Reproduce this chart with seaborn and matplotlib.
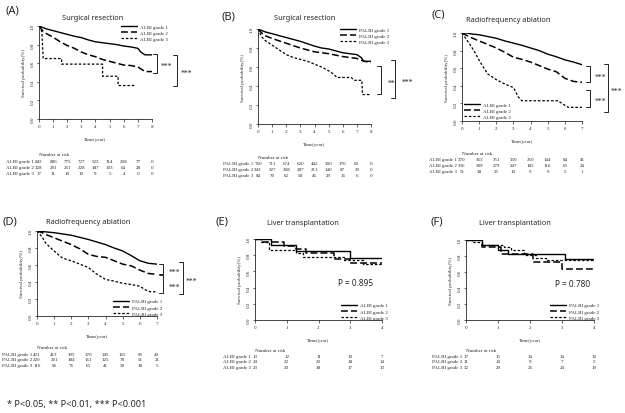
# Kaplan-Meier egrileri: ALBI / PALBI, 6 panel
import numpy as np
import matplotlib
matplotlib.use("Agg")
from matplotlib import pyplot as plt
from matplotlib import transforms
import seaborn as sns

# --- (A) ALBI, surgical resection ---
a_t1 = [0, 0.5, 1, 1.5, 2, 2.5, 3, 3.5, 4, 4.5, 5, 5.5, 6, 6.5, 7, 7.2, 7.5, 8]
a_s1 = [1, 0.97, 0.95, 0.93, 0.91, 0.89, 0.875, 0.85, 0.83, 0.82, 0.81, 0.80, 0.785, 0.775, 0.76, 0.72, 0.69, 0.69]
a_t2 = [0, 0.25, 0.5, 1, 1.5, 2, 2.5, 3, 3.5, 4, 4.5, 5, 5.5, 6, 6.5, 7, 7.3, 7.5, 8]
a_s2 = [1, 0.95, 0.92, 0.88, 0.83, 0.79, 0.76, 0.72, 0.69, 0.67, 0.64, 0.62, 0.60, 0.58, 0.575, 0.56, 0.53, 0.51, 0.51]
a_t3 = [0, 0.2, 0.3, 1.6, 1.6, 4.5, 4.5, 5.6, 5.6, 6.8]
a_s3 = [1, 0.94, 0.65, 0.65, 0.59, 0.59, 0.46, 0.46, 0.36, 0.36]
a_risk = [[842, 806, 775, 727, 523, 314, 208, 77, 0],
          [328, 291, 261, 228, 187, 103, 64, 28, 0],
          [17, 11, 10, 10, 9, 5, 4, 0, 0]]

# --- (B) PALBI, surgical resection ---
b_t1 = [0, 0.5, 1, 1.5, 2, 2.5, 3, 3.5, 4, 4.5, 5, 5.5, 6, 6.5, 7, 7.3, 7.5, 8]
b_s1 = [1, 0.97, 0.95, 0.93, 0.91, 0.89, 0.87, 0.845, 0.82, 0.80, 0.79, 0.77, 0.75, 0.74, 0.73, 0.70, 0.66, 0.66]
b_t2 = [0, 0.25, 0.5, 1, 1.5, 2, 2.5, 3, 3.5, 4, 4.5, 5, 5.5, 6, 6.5, 7, 7.5, 8]
b_s2 = [1, 0.96, 0.93, 0.90, 0.875, 0.85, 0.825, 0.80, 0.78, 0.76, 0.75, 0.74, 0.725, 0.71, 0.70, 0.69, 0.66, 0.65]
b_t3 = [0, 0.25, 0.5, 1, 1.5, 2, 2.5, 3, 3.5, 4, 4.5, 5, 5.3, 5.6, 6.6, 6.8, 7.35, 7.4, 8]
b_s3 = [1, 0.92, 0.88, 0.83, 0.78, 0.73, 0.70, 0.68, 0.66, 0.63, 0.60, 0.56, 0.53, 0.49, 0.49, 0.46, 0.46, 0.31, 0.31]
b_risk = [[760, 711, 674, 620, 442, 300, 170, 60, 0],
          [343, 327, 308, 287, 211, 140, 87, 39, 0],
          [84, 70, 62, 58, 46, 29, 16, 6, 0]]

# --- (C) ALBI, radiofrequency ablation ---
c_t1 = [0, 0.3, 0.5, 1, 1.5, 2, 2.5, 3, 3.5, 4, 4.5, 5, 5.5, 6, 6.5, 7]
c_s1 = [1, 1, 0.99, 0.98, 0.96, 0.94, 0.91, 0.885, 0.86, 0.83, 0.80, 0.76, 0.73, 0.695, 0.67, 0.64]
c_t2 = [0, 0.2, 0.5, 1, 1.5, 2, 2.5, 3, 3.5, 4, 4.5, 5, 5.5, 6, 6.5, 7]
c_s2 = [1, 0.98, 0.95, 0.91, 0.87, 0.83, 0.78, 0.725, 0.70, 0.67, 0.63, 0.59, 0.56, 0.485, 0.45, 0.44]
c_t3 = [0, 0.25, 0.5, 0.75, 1, 1.25, 1.5, 2, 2.5, 3, 3.3, 3.5, 5.6, 5.9, 6.2, 7]
c_s3 = [1, 0.93, 0.86, 0.78, 0.69, 0.61, 0.535, 0.47, 0.42, 0.38, 0.27, 0.23, 0.23, 0.19, 0.155, 0.155]
c_risk = [[370, 363, 351, 330, 250, 144, 84, 41],
          [336, 309, 279, 247, 182, 116, 65, 24],
          [51, 38, 25, 19, 9, 9, 5, 1]]

# --- (D) PALBI, radiofrequency ablation ---
d_t1 = [0, 0.5, 1, 1.5, 2, 2.5, 3, 3.5, 4, 4.5, 5, 5.5, 6, 6.5, 7]
d_s1 = [1, 0.99, 0.98, 0.965, 0.95, 0.925, 0.90, 0.87, 0.84, 0.80, 0.765, 0.71, 0.65, 0.62, 0.61]
d_t2 = [0, 0.3, 0.5, 1, 1.5, 2, 2.5, 3, 3.5, 4, 4.5, 5, 5.5, 6, 6.5, 7]
d_s2 = [1, 0.98, 0.96, 0.92, 0.88, 0.84, 0.79, 0.725, 0.70, 0.69, 0.65, 0.61, 0.59, 0.54, 0.50, 0.49]
d_t3 = [0, 0.3, 0.5, 0.75, 1, 1.25, 1.5, 2, 2.5, 3, 3.5, 4, 4.5, 5, 5.5, 6, 6.3, 6.6, 7]
d_s3 = [1, 0.93, 0.86, 0.81, 0.765, 0.72, 0.68, 0.65, 0.61, 0.57, 0.49, 0.43, 0.41, 0.385, 0.37, 0.35, 0.31, 0.285, 0.285]
d_risk = [[421, 413, 395, 370, 245, 165, 85, 40],
          [220, 201, 184, 161, 125, 78, 51, 21],
          [116, 96, 76, 65, 41, 30, 18, 5]]

# --- (E) ALBI, liver transplantation ---
e_t1 = [0, 0.5, 1.3, 3.0, 4]
e_s1 = [1, 0.923, 0.846, 0.769, 0.769]
e_t2 = [0, 0.2, 0.9, 1.3, 1.6, 2.5, 3.0, 4]
e_s2 = [1, 0.958, 0.917, 0.875, 0.833, 0.75, 0.708, 0.708]
e_t3 = [0, 0.2, 0.45, 1.0, 1.3, 1.5, 2.3, 2.8, 3.4, 4]
e_s3 = [1, 0.957, 0.87, 0.87, 0.826, 0.783, 0.783, 0.739, 0.696, 0.696]
e_risk = [[13, 12, 11, 10, 7],
          [24, 22, 20, 18, 14],
          [23, 20, 18, 17, 13]]

# --- (F) PALBI, liver transplantation ---
f_t1 = [0, 0.5, 1.0, 1.3, 3.1, 4]
f_s1 = [1, 0.94, 0.88, 0.82, 0.76, 0.76]
f_t2 = [0, 0.5, 1.1, 2.1, 3.0, 4]
f_s2 = [1, 0.91, 0.82, 0.73, 0.64, 0.64]
f_t3 = [0, 0.2, 0.5, 1.2, 1.4, 1.8, 2.2, 2.5, 4]
f_s3 = [1, 0.97, 0.94, 0.91, 0.875, 0.81, 0.78, 0.75, 0.72]
f_risk = [[17, 15, 14, 14, 10],
          [11, 10, 9, 7, 5],
          [32, 29, 26, 24, 19]]

albi_labels = ["ALBI grade 1", "ALBI grade 2", "ALBI grade 3"]
palbi_labels = ["PALBI grade 1", "PALBI grade 2", "PALBI grade 3"]

SERIF = "Liberation Serif"
W, H = 625, 414

sns.set_style("ticks")
plt.rcParams['font.family'] = ['Noto Sans', 'DejaVu Sans']

fig = plt.figure(figsize=(6.25, 4.14), dpi=100)

line_styles = [dict(ls="-", lw=1.0),
               dict(ls=(0, (4.5, 2)), lw=1.1),
               dict(ls=(0, (2, 1.5)), lw=0.9)]


def px_axes(l, r, t, b):
    return fig.add_axes([l / W, 1 - b / H, (r - l) / W, (b - t) / H])


def km_panel(box, curves, labels, xmax, legend_pos, title, letter, title_xy, letter_xy, steps=False):
    ax = px_axes(*box)
    draw = "steps-post" if steps else "default"
    for (t, s), lab, st in zip(curves, labels, line_styles):
        sns.lineplot(x=t, y=s, ax=ax, color="black", drawstyle=draw,
                     estimator=None, sort=False, label=lab, **st)
    ax.legend(loc=legend_pos[0], bbox_to_anchor=legend_pos[1], frameon=False,
              prop={"family": SERIF, "size": 3.6}, handlelength=3.2,
              labelspacing=0.35, borderpad=0, borderaxespad=0, handletextpad=0.6)
    ax.set_xticks(range(xmax + 1))
    ax.set_yticks(np.arange(0, 1.01, 0.2))
    ax.set_yticklabels([f"{v:.1f}" for v in np.arange(0, 1.01, 0.2)], rotation=90, va="center")
    ax.tick_params(labelsize=3.6, length=1.8, width=0.5, pad=1.5)
    for lbl in ax.get_xticklabels() + ax.get_yticklabels():
        lbl.set_family(SERIF)
    sns.despine(ax=ax)
    for sp in ax.spines.values():
        sp.set_linewidth(0.6)
    ax.set_xlabel("Time(year)", fontsize=3.6, family=SERIF, labelpad=7)
    ax.set_ylabel("Survival probability(%)", fontsize=3.6, family=SERIF, labelpad=3)
    fig.text(title_xy[0] / W, 1 - title_xy[1] / H, title, fontsize=5.3, ha="center", va="center")
    fig.text(letter_xy[0] / W, 1 - letter_xy[1] / H, letter, fontsize=8, ha="center", va="center")
    return ax


def risk_table(ax, labels, rows, ys, shift):
    trans = transforms.blended_transform_factory(ax.transData, fig.transFigure)
    ax.text(0, 1 - ys[0] / H, "Number at risk", transform=trans, ha="left", va="center",
            fontsize=3.6, family=SERIF)
    for lab, row, y in zip(labels, rows, ys[1:]):
        yf = 1 - y / H
        ax.annotate(lab, xy=(0, yf), xycoords=trans, xytext=(shift, 0), textcoords="offset pixels",
                    ha="right", va="center", fontsize=3.6, family=SERIF, annotation_clip=False)
        for x, n in enumerate(row):
            ax.text(x, yf, str(n), transform=trans, ha="center", va="center",
                    fontsize=3.6, family=SERIF)


def bracket(ax, x, y1, y2, d, text, tx):
    ax.plot([x - d, x, x, x - d], [y1, y1, y2, y2], color="black", lw=0.6, clip_on=False)
    ax.text(tx, (y1 + y2) / 2 - 0.03, text, ha="center", va="center", fontsize=5.5, family=SERIF)


# (A)
ax = km_panel((39, 152, 27, 120), [(a_t1, a_s1), (a_t2, a_s2), (a_t3, a_s3)], albi_labels, 8,
              ("upper left", (0.73, 1.02)), "Surgical resection", "(A)", (93, 18), (12, 11))
risk_table(ax, albi_labels, a_risk, [155, 162, 168, 174], -5)
bracket(ax, 8.35, 0.70, 0.50, 0.28, "***", 9.03)
bracket(ax, 9.77, 0.69, 0.36, 0.28, "***", 10.45)
ax.set_xlim(0, 8)
ax.set_ylim(0, 1)

# (B)
ax = km_panel((258, 371, 30, 125), [(b_t1, b_s1), (b_t2, b_s2), (b_t3, b_s3)], palbi_labels, 8,
              ("upper left", (0.73, 1.02)), "Surgical resection", "(B)", (305, 19), (228, 17))
risk_table(ax, palbi_labels, b_risk, [158, 164, 170, 176], -5)
bracket(ax, 8.71, 0.61, 0.32, 0.28, "**", 9.45)
bracket(ax, 9.70, 0.67, 0.27, 0.28, "***", 10.55)
ax.set_xlim(0, 8)
ax.set_ylim(0, 1)

# (C)
ax = km_panel((462, 582, 34, 122), [(c_t1, c_s1), (c_t2, c_s2), (c_t3, c_s3)], albi_labels, 7,
              ("lower left", (0.02, 0.02)), "Radiofrequency ablation", "(C)", (508, 20), (438, 15))
risk_table(ax, albi_labels, c_risk, [154, 160, 166, 172], -5)
bracket(ax, 7.47, 0.62, 0.44, 0.23, "***", 8.1)
bracket(ax, 7.47, 0.355, 0.155, 0.23, "***", 8.1)
bracket(ax, 8.52, 0.65, 0.10, 0.23, "***", 9.0)
ax.set_xlim(0, 7)
ax.set_ylim(0, 1)

# (D)
ax = km_panel((37, 157, 232, 317), [(d_t1, d_s1), (d_t2, d_s2), (d_t3, d_s3)], palbi_labels, 7,
              ("lower left", (0.63, 0.0)), "Radiofrequency ablation", "(D)", (88, 223), (10, 222))
risk_table(ax, palbi_labels, d_risk, [348, 355, 360, 366], -5)
bracket(ax, 7.35, 0.61, 0.49, 0.23, "***", 8.0)
bracket(ax, 7.35, 0.48, 0.27, 0.23, "***", 8.0)
bracket(ax, 8.52, 0.63, 0.26, 0.23, "***", 9.0)
ax.set_xlim(0, 7)
ax.set_ylim(0, 1)

# (E)
ax = km_panel((255, 382, 240, 321), [(e_t1, e_s1), (e_t2, e_s2), (e_t3, e_s3)], albi_labels, 4,
              ("lower left", (0.68, 0.0)), "Liver transplantation", "(E)", (303, 224), (222, 222),
              steps=True)
risk_table(ax, albi_labels, e_risk, [351, 357, 362, 368], -4)
ax.text(2.61, 0.457, "P = 0.895", ha="left", va="center", fontsize=6)
ax.set_xlim(0, 4)
ax.set_ylim(0, 1)

# (F)
ax = km_panel((466, 594, 241, 321), [(f_t1, f_s1), (f_t2, f_s2), (f_t3, f_s3)], palbi_labels, 4,
              ("lower left", (0.66, 0.0)), "Liver transplantation", "(F)", (515, 224), (437, 222),
              steps=True)
risk_table(ax, palbi_labels, f_risk, [351, 357, 362, 368], -4)
ax.text(2.78, 0.456, "P = 0.780", ha="left", va="center", fontsize=6)
ax.set_xlim(0, 4)
ax.set_ylim(0, 1)

fig.text(7 / W, 1 - 405 / H, "* P<0.05, ** P<0.01, *** P<0.001", fontsize=6.6, ha="left", va="center")

fig.savefig("out.png", dpi=100)
